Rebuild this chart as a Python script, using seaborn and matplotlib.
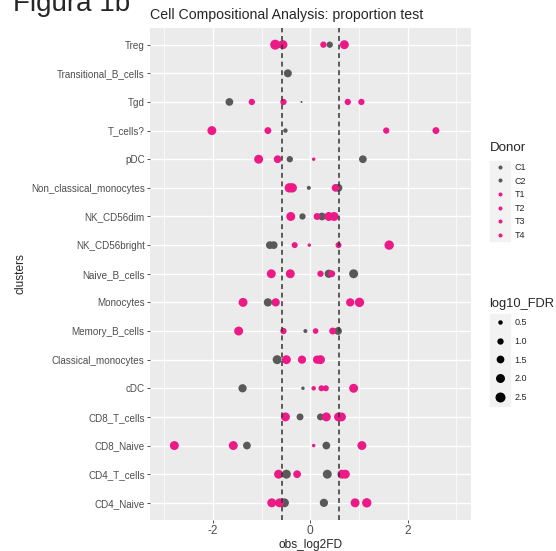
import numpy as np
import pandas as pd
import seaborn as sns
import matplotlib.pyplot as plt
from matplotlib.lines import Line2D
from matplotlib.patches import Rectangle

# clusters, top to bottom
clusters = ["Treg", "Transitional_B_cells", "Tgd", "T_cells?", "pDC",
            "Non_classical_monocytes", "NK_CD56dim", "NK_CD56bright",
            "Naive_B_cells", "Monocytes", "Memory_B_cells",
            "Classical_monocytes", "cDC", "CD8_T_cells", "CD8_Naive",
            "CD4_T_cells", "CD4_Naive"]
donors = ["C1", "C2", "T1", "T2", "T3", "T4"]
nan = np.nan

# obs_log2FD per donor (same order as clusters)
fd_C1 = [0.40, nan, -1.66, -0.51, -0.42, -0.03, -0.16, -0.83, 0.38, -0.87,
         -0.10, -0.68, -1.39, -0.21, -1.30, -0.49, -0.53]
fd_C2 = [-0.60, -0.46, -0.18, nan, 1.08, 0.58, 0.24, -0.75, 0.89, nan,
         0.57, nan, -0.15, 0.21, 0.33, 0.35, 0.28]
fd_T1 = [-0.72, nan, -1.20, -2.02, -1.06, -0.43, -0.40, -0.32, -0.80, -1.38,
         -1.47, -0.49, 0.07, -0.51, -2.79, -0.65, -0.79]
fd_T2 = [-0.56, nan, -0.55, -0.87, -0.67, -0.37, 0.14, -0.02, -0.41, -0.71,
         -0.55, -0.17, 0.23, 0.33, -1.58, -0.27, -0.63]
fd_T3 = [0.27, nan, 0.77, 1.56, 0.07, 0.52, 0.38, 0.58, 0.21, 0.82,
         0.11, 0.14, 0.32, 0.58, 0.07, 0.65, 0.92]
fd_T4 = [0.70, nan, 1.05, 2.58, nan, nan, 0.49, 1.62, 0.44, 1.01,
         0.46, 0.21, 0.89, 0.64, 1.06, 0.72, 1.16]

# log10_FDR per donor
fdr_C1 = [1.0, nan, 1.5, 0.5, 1.0, 0.4, 1.0, 1.5, 1.7, 1.7,
          0.4, 2.0, 1.7, 1.2, 1.5, 2.0, 2.0]
fdr_C2 = [1.2, 1.6, 0.1, nan, 1.5, 1.5, 1.5, 1.5, 2.0, nan,
          1.5, nan, 0.3, 1.2, 1.5, 2.0, 1.7]
fdr_T1 = [2.5, nan, 1.0, 2.0, 2.0, 2.2, 2.0, 0.9, 2.0, 2.0,
          2.0, 2.0, 0.5, 2.0, 2.0, 2.0, 2.0]
fdr_T2 = [2.0, nan, 1.0, 1.2, 1.5, 2.2, 1.2, 0.3, 2.0, 1.7,
          1.0, 1.7, 0.9, 2.0, 2.0, 1.5, 2.0]
fdr_T3 = [1.0, nan, 1.0, 1.0, 0.3, 1.5, 2.0, 0.9, 1.0, 1.7,
          0.8, 1.7, 0.9, 2.0, 0.3, 2.0, 2.0]
fdr_T4 = [2.0, nan, 1.0, 1.2, nan, nan, 2.0, 2.2, 1.2, 2.2,
          1.2, 2.0, 2.0, 2.0, 2.0, 2.0, 2.2]

size_breaks = [0.5, 1.0, 1.5, 2.0, 2.5]
colors = {"C1": "#595959", "C2": "#595959", "T1": "#EC1A87",
          "T2": "#EC1A87", "T3": "#EC1A87", "T4": "#EC1A87"}

fd = pd.DataFrame(dict(zip(donors, [fd_C1, fd_C2, fd_T1, fd_T2, fd_T3, fd_T4])))
fdr = pd.DataFrame(dict(zip(donors, [fdr_C1, fdr_C2, fdr_T1, fdr_T2, fdr_T3, fdr_T4])))
fd["clusters"] = clusters
fdr["clusters"] = clusters
df = fd.melt(id_vars="clusters", var_name="Donor", value_name="obs_log2FD")
df["log10_FDR"] = fdr.melt(id_vars="clusters")["value"]
df = df.dropna()
df["clusters"] = pd.Categorical(df["clusters"], categories=clusters[::-1])

sns.set_theme(style="darkgrid", rc={"axes.facecolor": "#EBEBEB",
                                    "grid.color": "white",
                                    "axes.unicode_minus": False})
plt.rcParams["font.family"] = ["Liberation Sans", "DejaVu Sans"]

W, H = 556, 551
fig = plt.figure(figsize=(W / 100, H / 100), dpi=100)
ax = fig.add_axes([150 / W, 1 - 520 / H, 321 / W, 492.5 / H])

sns.scatterplot(data=df, x="obs_log2FD", y="clusters", hue="Donor",
                palette=colors, size="log10_FDR", sizes=(0, 56),
                size_norm=(0, 2.7), linewidth=0, legend=False, ax=ax,
                zorder=3)

for v in [-0.585, 0.585]:
    ax.axvline(v, color="#333333", lw=1.1, ls=(0, (3.2, 2.4)), zorder=4)

ax.set_xlim(-3.29, 3.3)
ax.set_ylim(-0.6, 16.6)
ax.set_xticks([-2, 0, 2])
ax.set_xticks([-3, -1, 1, 3], minor=True)
ax.grid(which="major", color="white", lw=1.0)
ax.grid(which="minor", axis="x", color="white", lw=0.5)
for s in ax.spines.values():
    s.set_visible(False)
ax.tick_params(which="major", bottom=True, left=True, length=2.1, width=0.6,
               color="#333333", labelcolor="#4D4D4D", pad=1.7)
ax.tick_params(axis="y", labelsize=7.1)
ax.tick_params(axis="x", labelsize=8.6)
ax.tick_params(which="minor", length=0)
ax.set_xlabel("obs_log2FD", fontsize=8.6, labelpad=1)
ax.set_ylabel("clusters", fontsize=8.6, labelpad=3)

fig.text(150 / W, 1 - 19.5 / H, "Cell Compositional Analysis: proportion test",
         fontsize=10.2, va="baseline", ha="left")
fig.text(13 / W, 1 - 11 / H, "Figura 1b", fontsize=20,
         va="baseline", ha="left")

# legend titles
fig.text(490 / W, 1 - 151.5 / H, "Donor", fontsize=9.6, va="baseline")
fig.text(489 / W, 1 - 307 / H, "log10_FDR", fontsize=9.3, va="baseline")

# legend key backgrounds
fig.patches.append(Rectangle((490 / W, 1 - 240.7 / H), 20 / W, 80 / H,
                             transform=fig.transFigure, color="#F2F2F2", zorder=0))
fig.patches.append(Rectangle((490 / W, 1 - 405.5 / H), 20 / W, 92 / H,
                             transform=fig.transFigure, color="#F2F2F2", zorder=0))

donor_handles = [Line2D([], [], ls="", marker="o", ms=2.9, mew=0,
                        color=colors[d]) for d in donors]
fig.legend(donor_handles, donors, loc="upper left",
           bbox_to_anchor=(490 / W, 1 - 163 / H), frameon=False,
           fontsize=6.5, borderpad=0, borderaxespad=0, handlelength=2.2,
           handletextpad=0.55, labelspacing=0.51)

size_handles = [Line2D([], [], ls="", marker="o", mew=0, color="black",
                       ms=np.sqrt(56 * b / 2.7)) for b in size_breaks]
fig.legend(size_handles, [f"{b:.1f}" for b in size_breaks], loc="upper left",
           bbox_to_anchor=(490 / W, 1 - 318.3 / H), frameon=False,
           fontsize=6.5, borderpad=0, borderaxespad=0, handlelength=2.2,
           handletextpad=0.55, labelspacing=1.07)

plt.savefig("out.png", dpi=100)
plt.close("all")
